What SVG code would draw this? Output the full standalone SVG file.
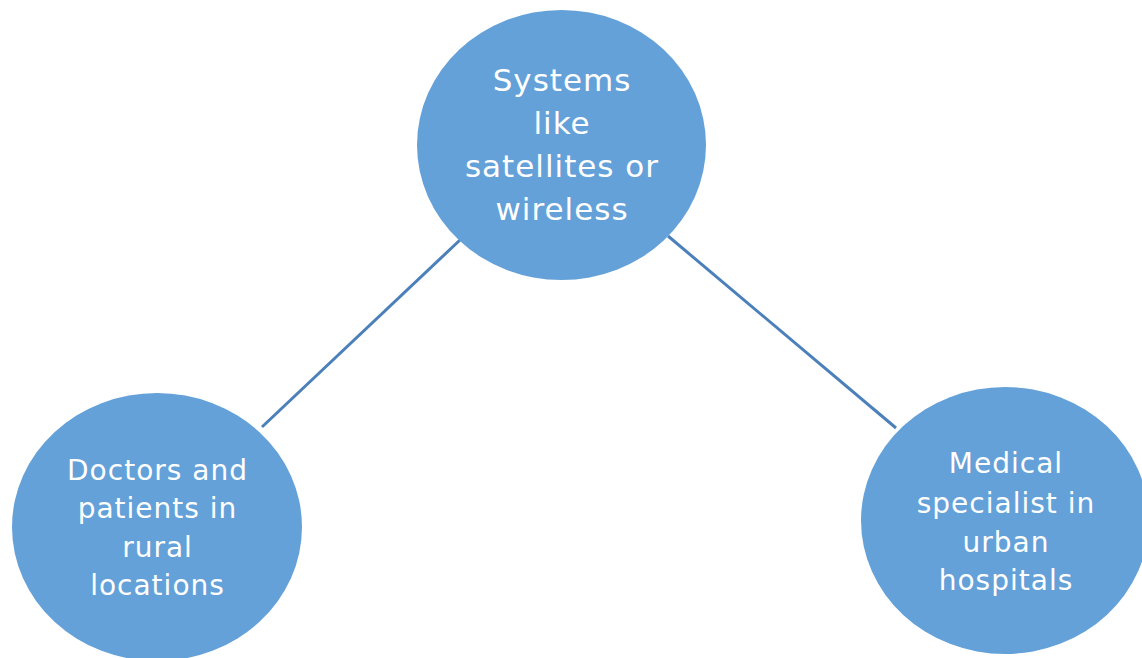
<svg xmlns="http://www.w3.org/2000/svg" width="1142" height="658" viewBox="0 0 1142 658">
<style>
.node{fill:#64a1d8;}
.lbl{fill:#ffffff;font-family:"DejaVu Sans",sans-serif;text-anchor:middle;letter-spacing:1px;}
.top{font-size:31px;}
.side{font-size:28px;}
.conn{stroke:#4b80ba;stroke-width:3;fill:none;}
</style>
<rect width="1142" height="658" fill="#ffffff"/>
<g id="connectors">
<line class="conn" x1="262" y1="427" x2="460" y2="240"/>
<line class="conn" x1="668" y1="236" x2="896" y2="428"/>
</g>
<g id="node-systems">
<ellipse class="node" cx="561.5" cy="145" rx="144.5" ry="135"/>
<text class="lbl top"><tspan x="562" y="91">Systems</tspan><tspan x="562" y="134">like</tspan><tspan x="562" y="177">satellites or</tspan><tspan x="562" y="220">wireless</tspan></text>
</g>
<g id="node-rural">
<ellipse class="node" cx="157" cy="527" rx="145" ry="134"/>
<text class="lbl side"><tspan x="157.5" y="480">Doctors and</tspan><tspan x="157.5" y="518">patients in</tspan><tspan x="157.5" y="557">rural</tspan><tspan x="157.5" y="595">locations</tspan></text>
</g>
<g id="node-urban">
<ellipse class="node" cx="1005" cy="520.5" rx="144" ry="133.5"/>
<text class="lbl side"><tspan x="1006" y="473">Medical</tspan><tspan x="1006" y="513">specialist in</tspan><tspan x="1006" y="552">urban</tspan><tspan x="1006" y="590">hospitals</tspan></text>
</g>
</svg>
